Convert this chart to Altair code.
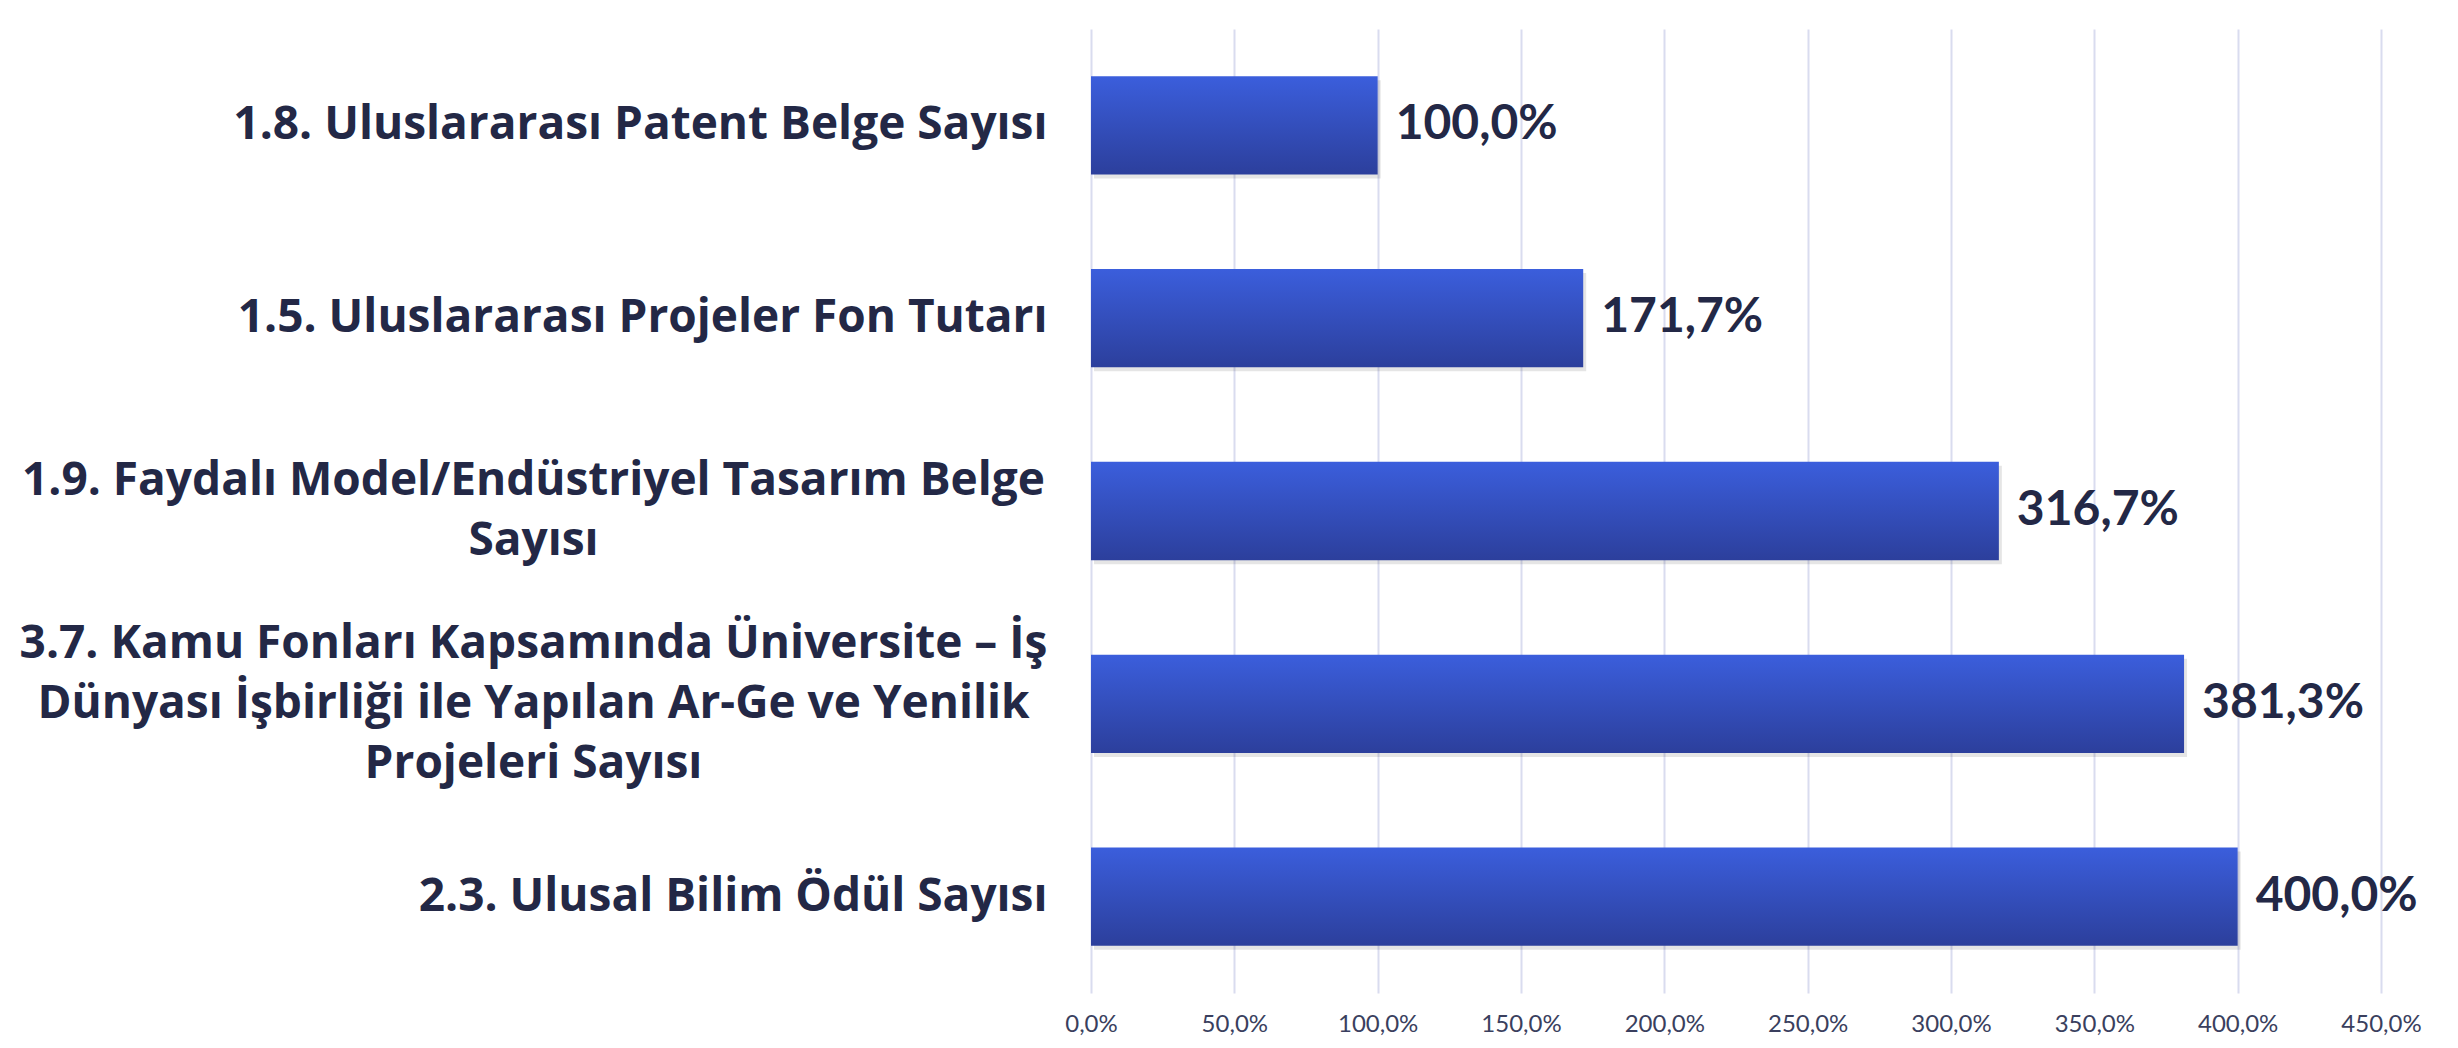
import altair as alt
import pandas as pd

categories = [
    "1.8. Uluslararası Patent Belge Sayısı",
    "1.5. Uluslararası Projeler Fon Tutarı",
    "1.9. Faydalı Model/Endüstriyel Tasarım Belge\nSayısı",
    "3.7. Kamu Fonları Kapsamında Üniversite – İş\nDünyası İşbirliği ile Yapılan Ar-Ge ve Yenilik\nProjeleri Sayısı",
    "2.3. Ulusal Bilim Ödül Sayısı",
]
values = [100.0, 171.7, 316.7, 381.3, 400.0]
x_ticks = [0, 50, 100, 150, 200, 250, 300, 350, 400, 450]

df = pd.DataFrame({"category": categories, "value": values})

CAT_FONT = "Open Sans"
NUM_FONT = "Lato"
TEXT = "#232846"
nlines = "length(split(datum.value, '\\n'))"
multi = nlines + " > 1"

y_enc = alt.Y(
    "category:N",
    sort=categories,
    scale=alt.Scale(paddingInner=0.49, paddingOuter=0.245),
    axis=alt.Axis(
        title=None,
        labelExpr="split(datum.value, '\\n')",
        labelAlign={"condition": {"test": multi, "value": "center"}, "value": "right"},
        labelPadding={"condition": {"test": multi, "value": 558}, "value": 44},
        labelOffset={
            "condition": [
                {"test": nlines + " == 2", "value": -30},
                {"test": nlines + " == 3", "value": -60},
            ],
            "value": 0,
        },
        labelFont=CAT_FONT,
        labelFontSize=46,
        labelFontWeight="bold",
        labelColor=TEXT,
        labelLineHeight=60,
        labelLimit=2000,
        ticks=False,
        tickSize=0,
        domain=False,
        grid=False,
    ),
)

x_enc = alt.X(
    "value:Q",
    scale=alt.Scale(domain=[0, 450], nice=False),
    axis=alt.Axis(
        title=None,
        values=x_ticks,
        labelExpr="replace(format(datum.value, '.1f'), '.', ',') + '%'",
        labelFont=NUM_FONT,
        labelFontSize=24,
        labelColor="#3a3f5e",
        labelPadding=19,
        labelFlush=False,
        ticks=False,
        tickSize=0,
        domain=False,
        grid=True,
        gridColor="#d9dcef",
        gridWidth=2,
    ),
)

base = alt.Chart(df).encode(x=x_enc, y=y_enc)

shadow = base.mark_bar(color="#000000", opacity=0.10, xOffset=3, yOffset=4)

bars = base.mark_bar(
    color=alt.Gradient(
        gradient="linear",
        stops=[
            alt.GradientStop(offset=0, color="#3b5edc"),
            alt.GradientStop(offset=1, color="#2c3f9c"),
        ],
        x1=0, x2=0, y1=0, y2=1,
    )
)

labels = base.transform_calculate(
    lbl="replace(format(datum.value, '.1f'), '.', ',') + '%'"
).mark_text(
    align="left", baseline="middle", dx=18, font=NUM_FONT, fontSize=48,
    fontWeight="bold", color=TEXT,
).encode(text="lbl:N")

chart = alt.layer(shadow, bars, labels).properties(
    width=1290,
    height=964,
    autosize=alt.AutoSizeParams(type="none"),
    padding={"left": 1083, "top": 21, "right": 69, "bottom": 47},
    background="white",
).configure_view(stroke=None)

chart.save("out.html", embed_options={"renderer": "svg", "actions": False})
